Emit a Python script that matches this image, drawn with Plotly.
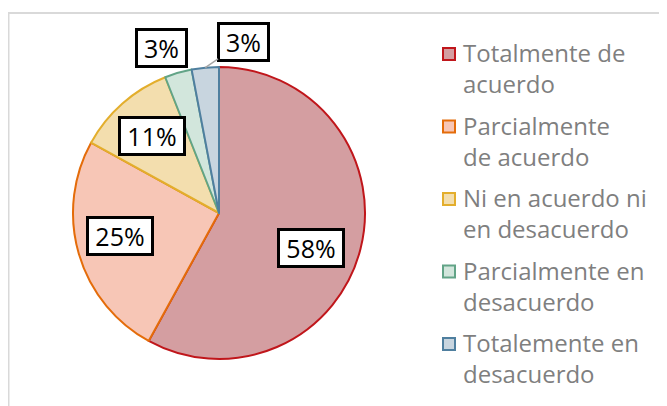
import math
import plotly.graph_objects as go

# data
categories = [
    "Totalmente de acuerdo",
    "Parcialmente de acuerdo",
    "Ni en acuerdo ni en desacuerdo",
    "Parcialmente en desacuerdo",
    "Totalemente en desacuerdo",
]
legend_lines = [
    ["Totalmente de", "acuerdo"],
    ["Parcialmente", "de acuerdo"],
    ["Ni en acuerdo ni", "en desacuerdo"],
    ["Parcialmente en", "desacuerdo"],
    ["Totalemente en", "desacuerdo"],
]
values = [58, 25, 11, 3, 3]
pct_labels = ["58%", "25%", "11%", "3%", "3%"]

# styling
fill_colors = ["#d49ea1", "#f7c6b6", "#f3deae", "#d2e6dc", "#c8d5df"]
edge_colors = ["#c0161b", "#e46c0a", "#e3ae2c", "#62a487", "#4f7f9f"]
font_family = "Open Sans, Lato, sans-serif"

# the page has an 8px body margin, so work in page pixels and shift
OFF = 8
W, H = 667 - OFF, 406 - OFF
cx, cy, r = 219, 213, 146          # pie centre / radius (page px)

# where each box sits: fraction of radius, angle nudge (deg)
label_r = [0.674, 0.696, 0.70, 1.196, 1.183]
label_da = [6.4, 3.1, 0.4, -2.9, 13.4]
leader = [False, False, False, False, True]


def px(x, y):
    return (x - OFF) / W, 1 - (y - OFF) / H


fig = go.Figure()
dx0, dy0 = px(cx - r, cy + r)
dx1, dy1 = px(cx + r, cy - r)
fig.add_trace(go.Pie(
    labels=categories,
    values=values,
    sort=False,
    direction="clockwise",
    rotation=0,
    textinfo="none",
    hoverinfo="label+percent",
    showlegend=False,
    marker=dict(colors=fill_colors, line=dict(color=edge_colors, width=2)),
    domain=dict(x=[dx0, dx1], y=[dy0, dy1]),
))

annotations = []
total = sum(values)
cum = 0
for v, txt, fr, da, lead in zip(values, pct_labels, label_r, label_da, leader):
    mid = (cum + v / 2) / total * 360
    cum += v
    a = math.radians(mid + da)
    lx = cx + fr * r * math.sin(a)
    ly = cy - fr * r * math.cos(a)
    box = dict(
        text=txt,
        font=dict(family=font_family, size=25, color="black"),
        bgcolor="white", bordercolor="black", borderwidth=3, borderpad=1,
        width=15 * len(txt) + 15, height=32,
        xref="paper", yref="paper",
    )
    if lead:
        m = math.radians(mid)
        ex = cx + r * math.sin(m)
        ey = cy - r * math.cos(m)
        x, y = px(ex, ey)
        box.update(x=x, y=y, showarrow=True, arrowhead=0, arrowwidth=1.5,
                   arrowcolor="#a6a6a6", ax=lx - ex, ay=ly - ey, standoff=0)
    else:
        x, y = px(lx, ly)
        box.update(x=x, y=y, showarrow=False, xanchor="center", yanchor="middle")
    annotations.append(box)

# hand-built legend (two text lines per entry)
shapes = []
leg_x, leg_y0, pitch, line_gap, sq = 443, 54, 72.5, 28, 12
for i, lines in enumerate(legend_lines):
    yc = leg_y0 + i * pitch
    x0, y0 = px(leg_x, yc - sq / 2)
    x1, y1 = px(leg_x + sq, yc + sq / 2)
    shapes.append(dict(type="rect", xref="paper", yref="paper", x0=x0, x1=x1, y0=y1, y1=y0,
                       fillcolor=fill_colors[i], line=dict(color=edge_colors[i], width=2)))
    tx, ty = px(leg_x + 18, yc + line_gap / 2)
    annotations.append(dict(
        text="<br>".join(lines), x=tx, y=ty, xref="paper", yref="paper", showarrow=False,
        xanchor="left", yanchor="middle", align="left",
        font=dict(family=font_family, size=24, color="#7f7f7f"),
    ))

# light frame of the chart area
fx0, fy0 = px(8.5, 13)
shapes.append(dict(type="rect", xref="paper", yref="paper", x0=fx0, y0=-0.05, x1=1.05, y1=fy0,
                   line=dict(color="#d9d9d9", width=2), layer="below"))

fig.update_layout(
    width=W, height=H,
    margin=dict(l=0, r=0, t=0, b=0),
    paper_bgcolor="white",
    plot_bgcolor="white",
    annotations=annotations,
    shapes=shapes,
    font=dict(family=font_family),
)

fig.write_html("out.html")
